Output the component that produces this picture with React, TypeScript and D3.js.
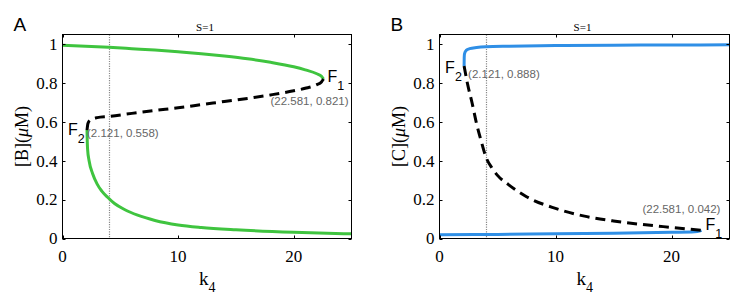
import React, { useEffect } from "react";
import * as d3 from "d3";

// x axis ticks / labels (shared)
const kTicks = [0, 10, 20];
const concTicks = [0, 0.2, 0.4, 0.6, 0.8, 1];
const kMarker = 4; // dotted vertical line

// panel A: [B] vs k4
const bHighK = [0, 2, 4, 6, 8, 10, 12, 14, 16, 18, 20, 21, 22, 22.4, 22.581];
const bHighV = [0.995, 0.99, 0.984, 0.977, 0.97, 0.961, 0.951, 0.939, 0.925, 0.907, 0.884, 0.868, 0.848, 0.835, 0.821];
const bMidK = [2.121, 2.2, 2.4, 3.0, 4, 6, 8, 10, 12, 14, 16, 18, 20, 21, 22, 22.4, 22.581];
const bMidV = [0.558, 0.592, 0.61, 0.622, 0.628, 0.644, 0.659, 0.673, 0.689, 0.705, 0.721, 0.739, 0.76, 0.773, 0.792, 0.806, 0.821];
const bLowK = [2.121, 2.13, 2.17, 2.3, 2.6, 3.0, 3.4, 3.9, 4.5, 5.4, 6.5, 8, 10, 12, 15, 20, 25];
const bLowV = [0.558, 0.53, 0.46, 0.4, 0.335, 0.28, 0.244, 0.212, 0.18, 0.148, 0.12, 0.093, 0.07, 0.057, 0.045, 0.032, 0.024];

// panel B: [C] vs k4
const cHighK = [2.121, 2.13, 2.16, 2.3, 2.6, 3.2, 4, 6, 10, 15, 20, 25];
const cHighV = [0.888, 0.93, 0.952, 0.968, 0.977, 0.983, 0.987, 0.99, 0.993, 0.995, 0.996, 0.997];
const cMidK = [2.121, 2.4, 2.8, 3.2, 3.6, 4, 4.5, 5, 6, 7.5, 10, 12.5, 15, 17.5, 20, 22.581];
const cMidV = [0.888, 0.8, 0.7, 0.59, 0.5, 0.42, 0.365, 0.325, 0.275, 0.215, 0.155, 0.115, 0.09, 0.072, 0.057, 0.042];
const cLowK = [0, 5, 10, 15, 20, 22, 22.4, 22.581];
const cLowV = [0.019, 0.021, 0.024, 0.027, 0.032, 0.035, 0.038, 0.042];

// fold points
const foldNames = ["1", "2"];
const foldK = [22.581, 2.121];
const foldB = [0.821, 0.558];
const foldC = [0.042, 0.888];

const zip = (a: number[], b: number[]) => a.map((v, i) => [v, b[i]] as [number, number]);

const serif = "'Liberation Serif', 'Times New Roman', serif";
const sans = "'Liberation Sans', Arial, sans-serif";

interface FoldLabel {
  fdx: number;
  fdy: number;
  cdx: number;
  cdy: number;
  anchor: "start" | "end";
}

interface PanelProps {
  letter: string;
  species: string;
  left: number;
  right: number;
  color: string;
  stable: [number, number][][];
  unstable: [number, number][];
  foldV: number[];
  labels: FoldLabel[];
}

const top = 34.5;
const bottom = 238.5;

const Panel: React.FC<PanelProps> = ({ letter, species, left, right, color, stable, unstable, foldV, labels }) => {
  const x = d3.scaleLinear().domain([0, 25]).range([left, right]);
  const y = d3.scaleLinear().domain([0, 1.05]).range([bottom, top]);
  const line = d3
    .line<[number, number]>()
    .x((d) => x(d[0]))
    .y((d) => y(d[1]))
    .curve(d3.curveMonotoneX);
  const cx = (left + right) / 2;
  const cy = (top + bottom) / 2;
  const tl = 3;
  const mx = Math.round(x(kMarker)) + 0.5;

  return (
    <g>
      <text x={left - 49} y={31} fontFamily={sans} fontSize={19}>{letter}</text>
      <text x={cx - 2} y={31} fontFamily={serif} fontSize={11} textAnchor="middle">S=1</text>

      {/* marker line */}
      <line x1={mx} x2={mx} y1={top} y2={bottom} stroke="#8a8a8a" strokeWidth={1.2} strokeDasharray="1.2,1.2" />

      {/* branches */}
      {stable.map((s, i) => (
        <path key={i} d={line(s) || ""} fill="none" stroke={color} strokeWidth={3} />
      ))}
      <path d={line(unstable) || ""} fill="none" stroke="#000" strokeWidth={3} strokeDasharray="10,6" />

      {/* frame and ticks */}
      <rect x={left} y={top} width={right - left} height={bottom - top} fill="none" stroke="#000" strokeWidth={1} />
      {kTicks.map((t) => (
        <g key={"x" + t}>
          <line x1={Math.round(x(t)) + 0.5} x2={Math.round(x(t)) + 0.5} y1={bottom} y2={bottom - tl} stroke="#000" />
          <line x1={Math.round(x(t)) + 0.5} x2={Math.round(x(t)) + 0.5} y1={top} y2={top + tl} stroke="#000" />
          <text x={x(t)} y={bottom + 23.5} fontFamily={serif} fontSize={17} textAnchor="middle">{t}</text>
        </g>
      ))}
      {concTicks.map((t) => (
        <g key={"y" + t}>
          <line x1={left} x2={left + tl} y1={Math.round(y(t)) + 0.5} y2={Math.round(y(t)) + 0.5} stroke="#000" />
          <line x1={right} x2={right - tl} y1={Math.round(y(t)) + 0.5} y2={Math.round(y(t)) + 0.5} stroke="#000" />
          <text x={left - 5} y={y(t)} dy="0.34em" fontFamily={serif} fontSize={17} textAnchor="end">{t}</text>
        </g>
      ))}

      {/* axis labels */}
      <text x={cx - 8} y={285} fontFamily={serif} fontSize={19}>
        k<tspan fontSize={14} dy={7}>4</tspan>
      </text>
      <text transform={`translate(${left - 41},${cy}) rotate(-90)`} fontFamily={serif} fontSize={18} textAnchor="middle" dy="0.34em">
        [{species}](<tspan fontStyle="italic">μ</tspan>M)
      </text>

      {/* fold labels */}
      {foldNames.map((n, i) => {
        const px = x(foldK[i]);
        const py = y(foldV[i]);
        const l = labels[i];
        return (
          <g key={n}>
            <text x={px + l.fdx} y={py + l.fdy} fontFamily={sans} fontSize={16}>
              F<tspan fontSize={12.5} dy={8}>{n}</tspan>
            </text>
            <text x={px + l.cdx} y={py + l.cdy} fontFamily={sans} fontSize={11.5} fill="#666" textAnchor={l.anchor}>
              ({foldK[i]}, {foldV[i].toFixed(3)})
            </text>
          </g>
        );
      })}
    </g>
  );
};

export default function App() {
  useEffect(() => {
    document.body.style.margin = "0";
  }, []);

  return (
    <svg width={745} height={301} viewBox="0 0 745 301" style={{ display: "block", background: "#fff" }}>
      <Panel
        letter="A"
        species="B"
        left={62.5}
        right={351.5}
        color="#3fc43f"
        stable={[zip(bHighK, bHighV), zip(bLowK, bLowV)]}
        unstable={zip(bMidK, bMidV)}
        foldV={foldB}
        labels={[
          { fdx: 4, fdy: 3, cdx: 25, cdy: 26, anchor: "end" },
          { fdx: -19, fdy: 5, cdx: 0, cdy: 7, anchor: "start" },
        ]}
      />
      <Panel
        letter="B"
        species="C"
        left={439.5}
        right={729.5}
        color="#2f8fe6"
        stable={[zip(cHighK, cHighV), zip(cLowK, cLowV)]}
        unstable={zip(cMidK, cMidV)}
        foldV={foldC}
        labels={[
          { fdx: 4, fdy: 0, cdx: 19, cdy: -17, anchor: "end" },
          { fdx: -19, fdy: 7, cdx: 4, cdy: 12, anchor: "start" },
        ]}
      />
    </svg>
  );
}
